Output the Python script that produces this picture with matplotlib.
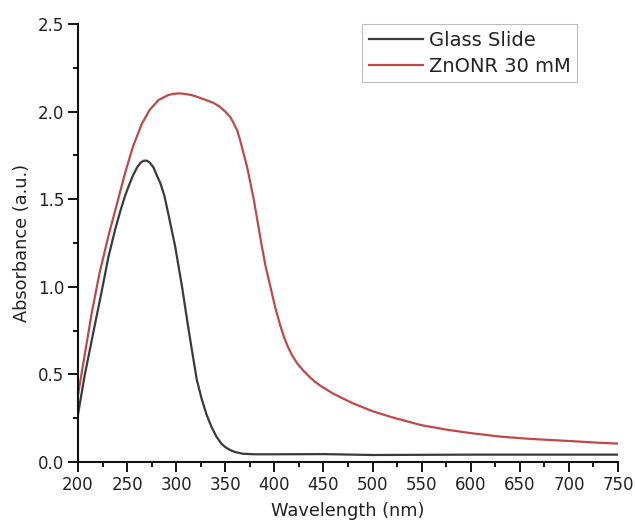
import numpy as np
import matplotlib.pyplot as plt
from matplotlib.ticker import MultipleLocator

plt.rcParams['font.family'] = ['DejaVu Sans']

# UV-Vis absorbance readings
wl_glass = [200, 207, 216, 224, 231, 238, 243, 248, 252, 256, 260, 264, 267, 270, 273, 277,
            280, 284, 288, 293, 299, 306, 312, 316, 321, 326, 331, 336, 341, 346, 350,
            355, 360, 368, 380, 400, 450, 500, 600, 700, 750]
abs_glass = [0.27, 0.50, 0.75, 0.97, 1.17, 1.33, 1.43, 1.52, 1.58, 1.635, 1.68, 1.71, 1.72, 1.72, 1.71, 1.68,
             1.64, 1.59, 1.52, 1.39, 1.23, 1.00, 0.78, 0.64, 0.47, 0.36, 0.27, 0.20, 0.145, 0.105, 0.085,
             0.068, 0.057, 0.047, 0.044, 0.044, 0.045, 0.04, 0.042, 0.042, 0.042]

wl_znonr = [200, 205, 214, 222, 231, 240, 248, 256, 265, 273, 282, 292, 298, 304, 310, 315, 320,
            326, 332, 338, 344, 350, 355, 358, 362, 365, 368, 372, 375, 379, 383, 387, 391,
            396, 401, 406, 410, 414, 418, 423, 429, 435, 441, 447, 460, 480, 500,
            520, 550, 575, 600, 630, 660, 700, 730, 750]
abs_znonr = [0.38, 0.55, 0.85, 1.08, 1.29, 1.48, 1.65, 1.80, 1.93, 2.01, 2.066, 2.095, 2.102, 2.104, 2.10, 2.095, 2.087,
             2.075, 2.063, 2.05, 2.03, 2.00, 1.97, 1.94, 1.895, 1.84, 1.775, 1.69, 1.61, 1.50, 1.37, 1.24, 1.12,
             1.00, 0.88, 0.78, 0.71, 0.655, 0.61, 0.565, 0.525, 0.49, 0.46, 0.435, 0.39, 0.335, 0.29,
             0.255, 0.21, 0.185, 0.165, 0.145, 0.132, 0.12, 0.11, 0.105]

fig = plt.figure(figsize=(6.35, 5.28), dpi=100)
ax = fig.add_axes([0.1228, 0.125, 0.8504, 0.8295])

ax.plot(wl_glass, abs_glass, color='#3a3a3a', lw=1.6, label='Glass Slide')
ax.plot(wl_znonr, abs_znonr, color='#c0484a', lw=1.6, label='ZnONR 30 mM')

ax.set_xlim(200, 750)
ax.set_ylim(0, 2.5)
ax.xaxis.set_major_locator(MultipleLocator(50))
ax.xaxis.set_minor_locator(MultipleLocator(25))
ax.yaxis.set_major_locator(MultipleLocator(0.5))
ax.yaxis.set_minor_locator(MultipleLocator(0.25))
ax.yaxis.set_major_formatter(plt.FormatStrFormatter('%.1f'))

for s in ('top', 'right'):
    ax.spines[s].set_visible(False)
for s in ('left', 'bottom'):
    ax.spines[s].set_linewidth(1.5)
    ax.spines[s].set_color('#111111')

ax.tick_params(which='major', direction='out', length=7, width=1.3, labelsize=12, pad=3,
               labelcolor='#222222')
ax.tick_params(which='minor', direction='out', length=3.5, width=1.3)

ax.set_xlabel('Wavelength (nm)', fontsize=12.8, labelpad=6, color='#222222')
ax.set_ylabel('Absorbance (a.u.)', fontsize=12.8, labelpad=5, color='#222222')

leg = ax.legend(loc='upper right', bbox_to_anchor=(0.925, 1.0), fontsize=14,
                frameon=True, fancybox=False, handlelength=2.8, handletextpad=0.3,
                borderpad=0.35, labelspacing=0.35, borderaxespad=0.0)
leg.get_frame().set_edgecolor('#aaaaaa')
leg.get_frame().set_linewidth(0.8)
for t in leg.get_texts():
    t.set_color('#222222')

fig.savefig('out.png', dpi=100)
